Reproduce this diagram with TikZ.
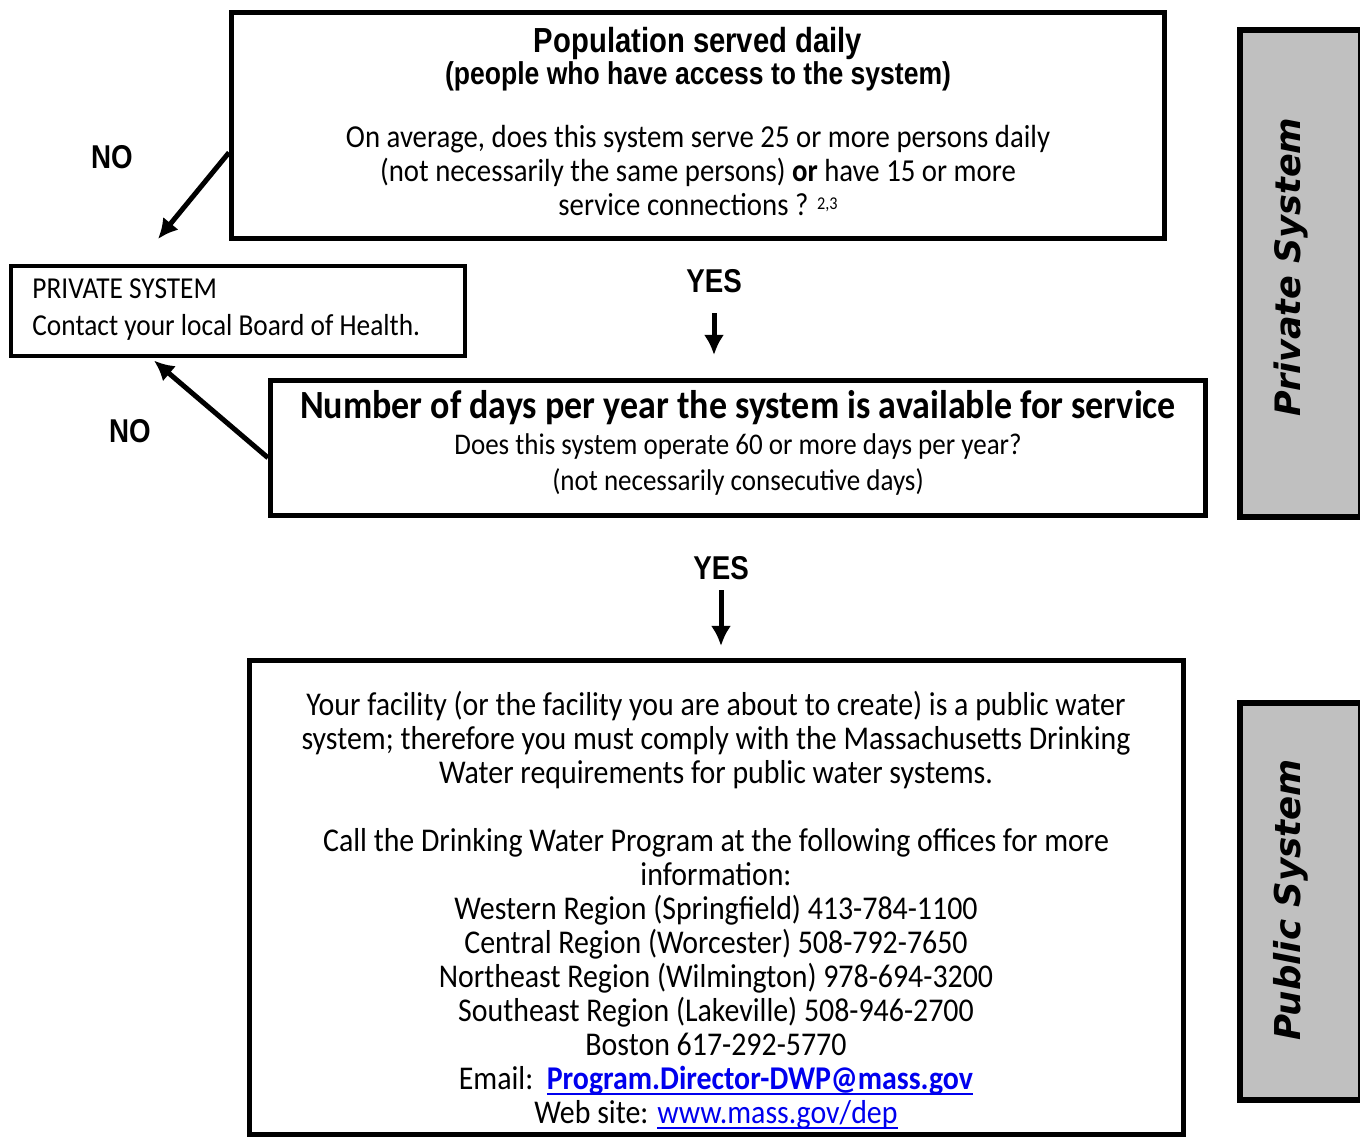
\documentclass[tikz,border=0pt]{standalone}
\usepackage{fontspec}
\setmainfont{Carlito}[FakeStretch=0.9]
\newfontfamily\arialfont{Liberation Sans}[FakeStretch=0.84]
\newfontfamily\sidefont{DejaVu Sans}
\usetikzlibrary{arrows.meta,calc}
\tikzset{>={Latex[length=10pt,width=10pt]}}
\definecolor{sidegray}{RGB}{192,192,192}
\definecolor{linkblue}{RGB}{0,0,238}
\newcommand{\linkline}[1]{{\color{linkblue}\setbox0\hbox{#1}\rlap{\rule[-3pt]{\wd0}{0.9pt}}\box0}}

\begin{document}
\begin{tikzpicture}[x=0.5pt, y=-0.5pt,
    box/.style = {draw, line width=2.5pt, inner sep=0pt},
    side/.style = {draw, line width=3pt, fill=sidegray, inner sep=0pt},
    answer/.style = {font=\arialfont\bfseries\fontsize{16.5}{18}\selectfont, inner sep=0pt},
    arr/.style = {->, line width=2.5pt}]
    \useasboundingbox (0,0) rectangle (1360,1138);

    \node[box, minimum width=466.5pt, minimum height=113pt] (pop) at (698,125.5) {};
    \node[box, line width=2pt, minimum width=227pt, minimum height=45pt] (priv) at (238,311) {};
    \node[box, minimum width=467.5pt, minimum height=67.5pt] (days) at (738,448) {};
    \node[box, minimum width=467pt, minimum height=237pt] (pub) at (716.5,897.5) {};
    \node[side, minimum width=60.5pt, minimum height=243.5pt] (sidepriv) at (1300.5,273.5) {};
    \node[side, minimum width=60.5pt, minimum height=198.5pt] (sidepub) at (1300.5,901.5) {};

    \node[inner sep=0pt, font=\arialfont\bfseries\fontsize{17.4}{19}\selectfont] (poptitle) at (698,44) {Population served daily};
    \node[inner sep=0pt, font=\arialfont\bfseries\fontsize{15.8}{18}\selectfont] (popsub) at (698,76) {(people who have access to the system)};
    \node[inner sep=0pt, align=center, font=\fontsize{16}{17}\selectfont] (poptext) at (698,171)
        {On average, does this system serve 25 or more persons daily\\
         (not necessarily the same persons) \textbf{or} have 15 or more\\
         service connections ? \raisebox{0.4ex}{\fontsize{9}{9}\selectfont 2,3}};

    \node[inner sep=0pt, anchor=west, align=left, font=\fontsize{15.2}{18.5}\selectfont] (privtext) at (32,309.5)
        {PRIVATE SYSTEM\\Contact your local Board of Health.};

    \node[inner sep=0pt, font=\bfseries\fontsize{20}{22}\selectfont] (daystitle) at (738,408)
        {Number of days per year the system is available for service};
    \node[inner sep=0pt, align=center, font=\fontsize{15}{18}\selectfont] (daystext) at (738,465)
        {Does this system operate 60 or more days per year?\\(not necessarily consecutive days)};

    \node[inner sep=0pt, align=center, font=\fontsize{16.6}{17}\selectfont] (pubtext) at (716,910)
        {Your facility (or the facility you are about to create) is a public water\\
         system; therefore you must comply with the Massachusetts Drinking\\
         Water requirements for public water systems.\\[17pt]
         Call the Drinking Water Program at the following offices for more\\
         information:\\
         Western Region (Springfield) 413-784-1100\\
         Central Region (Worcester) 508-792-7650\\
         Northeast Region (Wilmington) 978-694-3200\\
         Southeast Region (Lakeville) 508-946-2700\\
         Boston 617-292-5770\\
         Email:\ \ \linkline{\textbf{Program.Director-DWP@mass.gov}}\\
         Web site: \linkline{www.mass.gov/dep}};

    \node[rotate=90, inner sep=0pt, font=\sidefont\bfseries\itshape\fontsize{17.5}{20}\selectfont] (privlabel) at (1291,267) {Private System};
    \node[rotate=90, inner sep=0pt, font=\sidefont\bfseries\itshape\fontsize{17.8}{20}\selectfont] (publabel) at (1291,900) {Public System};

    \node[answer] (no1) at (112,157) {NO};
    \node[answer] (no2) at (130,431) {NO};
    \node[answer] (yes1) at (714,281) {YES};
    \node[answer] (yes2) at (721,568) {YES};

    \coordinate (notip) at (158,239);
    \draw[arr] ($(pop.north west)!0.617!(pop.south west)$) -- (notip);
    \draw[arr, shorten >=2pt] ($(days.north west)!0.57!(days.south west)$) -- ($(priv.south west)!0.31!(priv.south east)$);
    \draw[arr, shorten <=10pt, shorten >=11.5pt] (yes1.south) -- (yes1.south |- days.north);
    \draw[arr, shorten <=5pt, shorten >=6pt] (yes2.south) -- (yes2.south |- pub.north);

\end{tikzpicture}
\end{document}
